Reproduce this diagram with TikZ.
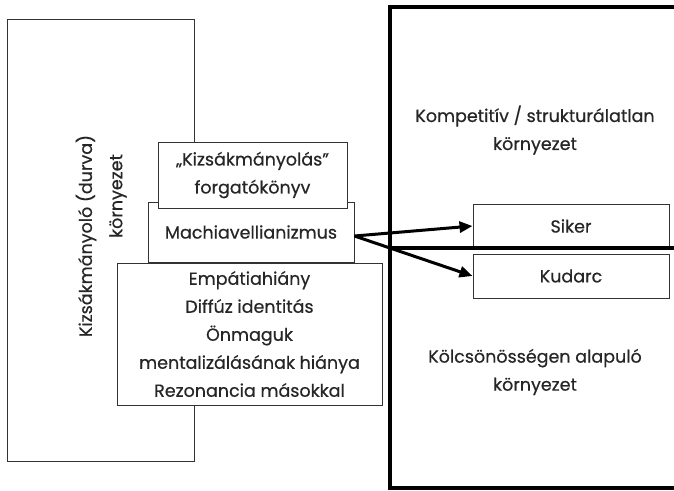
\documentclass[tikz,border=0pt]{standalone}
\usepackage{fontspec}
\setmainfont{Poppins}[FakeBold=0.5]
\usetikzlibrary{arrows.meta}
\begin{document}
\begin{tikzpicture}[x=1pt,y=-1pt,
  thinbox/.style={draw=black!80,line width=1pt,fill=white},
  lbl/.style={font=\fontsize{17.5}{28}\selectfont,align=center,text=black!85,inner sep=0pt},
  thick arrow/.style={line width=3pt,-{Triangle[length=13pt,width=11pt]}}]
\useasboundingbox (0,0) rectangle (674,490);
% left environment
\draw[draw=black!80,line width=0.9pt] (7,19) rectangle (194,461);
\node[lbl,rotate=90] (lefttxt) at (86,236) {Kizsákmányoló (durva)};
\node[lbl,rotate=90] (lefttxt2) at (118,196) {környezet};
% right environment
\draw[line width=4pt] (678,7) -- (390,7) -- (390,488) -- (678,488);
\coordinate (divl) at (390,248);
\coordinate (divr) at (678,248);
\node[lbl] (komp) at (535,130) {Kompetitív / strukturálatlan\\környezet};
\node[lbl] (kolcs) at (535,372) {Kölcsönösségen alapuló\\környezet};
% stacked boxes
\node[thinbox,minimum width=206pt,minimum height=60pt,lbl] (mach) at (251,232) {Machiavellianizmus};
\node[thinbox,minimum width=189pt,minimum height=66pt,lbl] (kizs) at (252.5,175) {„Kizsákmányolás”\\forgatókönyv};
\node[thinbox,minimum width=265pt,minimum height=142pt,lbl] (emp) at (249.5,334) {Empátiahiány\\Diffúz identitás\\Önmaguk\\mentalizálásának hiánya\\Rezonancia másokkal};
% outcomes
\node[thinbox,minimum width=196pt,minimum height=44pt,lbl] (siker) at (571,226) {Siker};
\node[thinbox,minimum width=196pt,minimum height=44pt,lbl] (kudarc) at (571,276) {Kudarc};
\draw[line width=3.5pt] (divl) -- (divr);
\draw[thick arrow] ([yshift=-4pt]mach.east) -- (siker.west);
\draw[thick arrow] ([yshift=-4pt]mach.east) -- (kudarc.west);
\end{tikzpicture}
\end{document}
